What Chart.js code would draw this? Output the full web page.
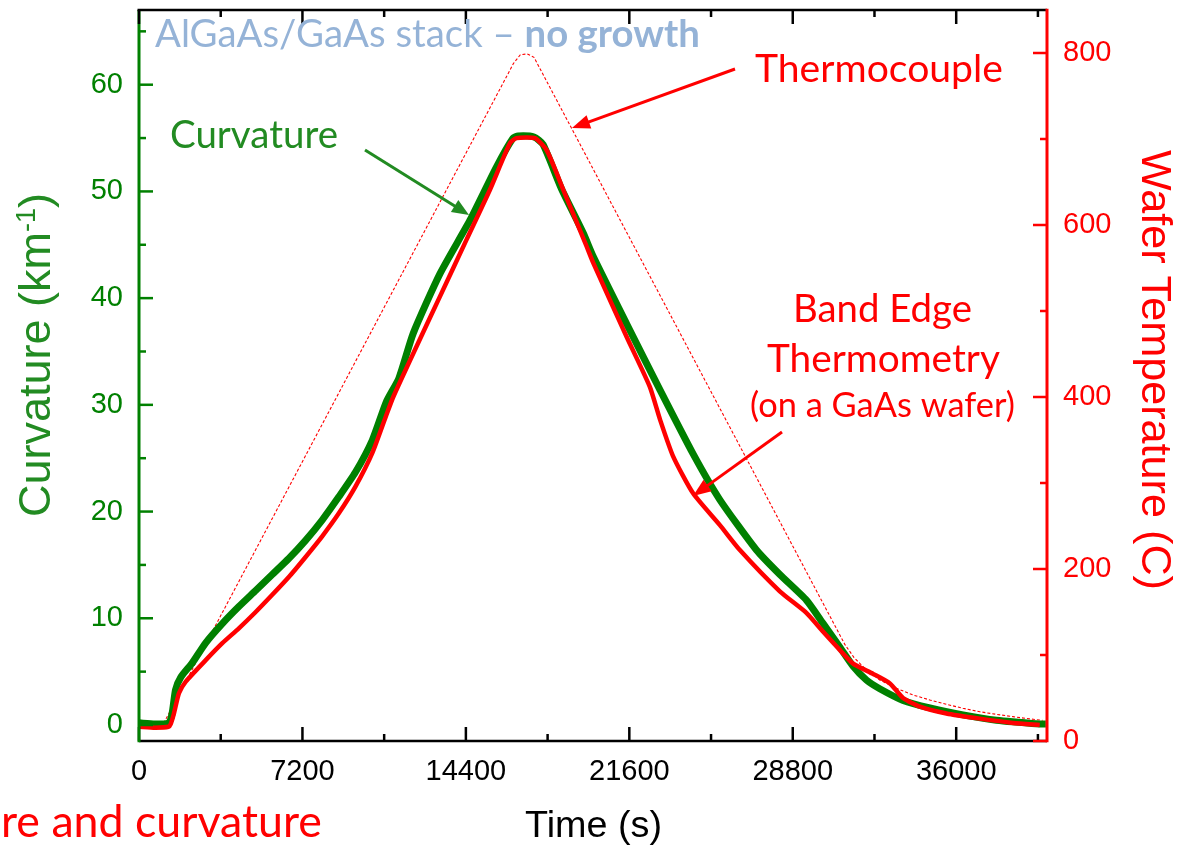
<!DOCTYPE html>
<html><head><meta charset="utf-8">
<script src="https://cdn.jsdelivr.net/npm/chart.js@4.4.1/dist/chart.umd.min.js"></script>
<style>html,body{margin:0;padding:0;background:#fff;overflow:hidden}canvas{display:block}</style>
</head><body>
<canvas id="c" width="1196" height="846"></canvas>
<script>
// ---- data ----
const curvTime = [0, 700, 1300, 1460, 1610, 1850, 2340, 2940, 3670, 4400, 5140, 5870, 6600, 7340, 8070, 8810, 9540, 10280, 10900, 11450, 12080, 13260, 14580, 15750, 16480, 16700, 17400, 17800, 18600, 19570, 20010, 21480, 22950, 24410, 25590, 27200, 28230, 29400, 30140, 30870, 31460, 32050, 32630, 33660, 34840, 36300, 37770, 39680, 39950];
const curvValues = [0.2, 0.1, 0.2, 1.1, 3.3, 4.5, 5.8, 7.7, 9.5, 11.1, 12.6, 14.1, 15.6, 17.3, 19.2, 21.4, 23.7, 26.7, 30.3, 32.5, 36.7, 42.3, 47.3, 52.3, 55.0, 55.2, 55.1, 54.4, 50.3, 46.1, 43.9, 37.6, 31.4, 25.4, 21.1, 16.4, 14.1, 11.7, 9.5, 7.3, 5.5, 4.2, 3.4, 2.3, 1.6, 0.95, 0.45, 0.1, 0.1];

const bandTime = [0, 700, 1300, 1400, 1540, 1760, 2060, 2940, 3670, 4400, 5140, 5870, 6610, 7340, 8070, 8810, 9540, 10280, 10870, 11200, 12230, 13260, 14430, 15460, 16340, 16630, 17440, 17960, 18690, 19720, 20010, 21480, 22500, 22950, 23530, 24410, 25590, 26470, 28230, 29400, 30140, 30870, 31460, 32340, 33080, 33660, 34400, 35570, 37040, 38500, 39680];
const bandTemp = [16.6, 15.5, 16.5, 20, 32, 55.5, 69, 94, 113.7, 131, 150, 170, 191, 214, 238, 265, 296, 335, 377, 400, 459, 517, 583, 641, 695, 701, 701, 687, 641, 575, 556, 470, 412, 374, 331, 288, 251, 222, 174, 149, 127, 106, 90, 78, 67, 50, 40, 32, 26, 21, 18.6];

const tcTime = [0, 1075, 16500, 16800, 17100, 17400, 31100, 31500, 31900, 32630, 33370, 34100, 34840, 35570, 36300, 37040, 37770, 38500, 39390, 39800];
const tcTemp = [20, 20, 788, 798, 799, 795, 112, 97, 86.4, 71, 61.3, 53.5, 47.7, 42.7, 38, 34, 31, 28.3, 25.2, 24];

const timeTicks = [0, 7200, 14400, 21600, 28800, 36000];
const timeMinor = [3600, 10800, 18000, 25200, 32400, 39600];
const curvTicks = [0, 10, 20, 30, 40, 50, 60];
const curvMinor = [5, 15, 25, 35, 45, 55, 65];
const tempTicks = [0, 200, 400, 600, 800];
const tempMinor = [100, 300, 500, 700];

// ---- styles ----
const GREEN = '#008000', FOREST = '#228b22', RED = '#ff0000';
const ARIAL = "'Liberation Sans', Arial, sans-serif";
const CAL = "Lato, 'Open Sans', sans-serif";

const pts = (xs, ys) => xs.map((x, i) => ({x, y: ys[i]}));

function fitSize(ctx, text, weight, family, width) {
  ctx.font = `${weight} 100px ${family}`;
  return 100 * width / ctx.measureText(text).width;
}
function arrow(ctx, x1, y1, x2, y2, color, lw, hl, hw) {
  const a = Math.atan2(y2 - y1, x2 - x1), c = Math.cos(a), s = Math.sin(a);
  ctx.strokeStyle = color; ctx.fillStyle = color; ctx.lineWidth = lw;
  ctx.beginPath(); ctx.moveTo(x1, y1); ctx.lineTo(x2 - c * hl * 0.8, y2 - s * hl * 0.8); ctx.stroke();
  const bx = x2 - c * hl, by = y2 - s * hl;
  ctx.beginPath(); ctx.moveTo(x2, y2);
  ctx.lineTo(bx - s * hw / 2, by + c * hw / 2);
  ctx.lineTo(bx + s * hw / 2, by - c * hw / 2);
  ctx.closePath(); ctx.fill();
}
function noPad(s) { s.paddingTop = 0; s.paddingBottom = 0; s.paddingLeft = 0; s.paddingRight = 0; }

const axesPlugin = {
  id: 'axesTicks',
  afterDatasetsDraw(chart) {
    const {ctx, chartArea: {left, right, top, bottom}, scales} = chart;
    const X = scales.x, L = scales.yL, R = scales.yR;
    const line = (a, b, c, d) => { ctx.beginPath(); ctx.moveTo(a, b); ctx.lineTo(c, d); ctx.stroke(); };
    ctx.save(); ctx.lineCap = 'butt';
    // bottom axis
    ctx.strokeStyle = '#000'; ctx.lineWidth = 2.7;
    line(left, bottom, right, bottom);
    ctx.lineWidth = 2.5;
    timeTicks.forEach(v => { const p = X.getPixelForValue(v); line(p, bottom, p, bottom - 14); });
    timeMinor.forEach(v => { const p = X.getPixelForValue(v); line(p, bottom, p, bottom - 7); });
    // left axis
    ctx.strokeStyle = GREEN; ctx.lineWidth = 3;
    line(left, top, left, bottom + 1.3);
    ctx.lineWidth = 2.5;
    curvTicks.forEach(v => { const p = L.getPixelForValue(v); line(left, p, left + 14, p); });
    curvMinor.forEach(v => { const p = L.getPixelForValue(v); line(left, p, left + 7, p); });
    // top axis
    ctx.strokeStyle = '#000'; ctx.lineWidth = 2.7;
    line(left - 1.5, top, right, top);
    ctx.lineWidth = 2.5;
    timeTicks.forEach(v => { const p = X.getPixelForValue(v); line(p, top, p, top + 14); });
    timeMinor.forEach(v => { const p = X.getPixelForValue(v); line(p, top, p, top + 7); });
    // right axis
    ctx.strokeStyle = RED; ctx.lineWidth = 3;
    line(right, top - 1.3, right, bottom + 1.3);
    ctx.lineWidth = 2.5;
    tempTicks.forEach(v => { const p = R.getPixelForValue(v); line(right, p, right - 14, p); });
    tempMinor.forEach(v => { const p = R.getPixelForValue(v); line(right, p, right - 7, p); });
    ctx.restore();
  },
  afterDraw(chart) {
    const ctx = chart.ctx;
    ctx.save();
    ctx.textBaseline = 'alphabetic';
    // left axis title
    ctx.save();
    ctx.translate(50, 517); ctx.rotate(-Math.PI / 2);
    ctx.fillStyle = FOREST; ctx.textAlign = 'left';
    ctx.font = `45px ${ARIAL}`;
    ctx.fillText('Curvature (km', 0, 0);
    let w = ctx.measureText('Curvature (km').width;
    ctx.font = `27px ${ARIAL}`;
    ctx.fillText('-1', w, -15);
    w += ctx.measureText('-1').width;
    ctx.font = `45px ${ARIAL}`;
    ctx.fillText(')', w, 0);
    ctx.restore();
    // right axis title
    ctx.save();
    ctx.translate(1142, 150); ctx.rotate(Math.PI / 2);
    ctx.fillStyle = RED; ctx.textAlign = 'left';
    let s = fitSize(ctx, 'Wafer Temperature (C)', 'normal', ARIAL, 440);
    ctx.font = `${s}px ${ARIAL}`;
    ctx.fillText('Wafer Temperature (C)', 0, 0);
    ctx.restore();
    // x title
    s = fitSize(ctx, 'Time (s)', 'normal', ARIAL, 137);
    ctx.font = `${s}px ${ARIAL}`; ctx.fillStyle = '#000'; ctx.textAlign = 'left';
    ctx.fillText('Time (s)', 525, 837);

    // annotations
    const txt = (t, x, y, width, color, weight) => {
      const sz = fitSize(ctx, t, weight || 'normal', CAL, width);
      ctx.font = `${weight || 'normal'} ${sz}px ${CAL}`;
      ctx.fillStyle = color; ctx.textAlign = 'left';
      ctx.fillText(t, x, y);
    };
    const a1 = 'AlGaAs/GaAs stack \u2013 ', a2 = 'no growth';
    ctx.font = `normal 100px ${CAL}`; const m1 = ctx.measureText(a1).width;
    ctx.font = `bold 100px ${CAL}`; const m2 = ctx.measureText(a2).width;
    const hs = 100 * 545 / (m1 + m2);
    ctx.fillStyle = '#95b3d7';
    ctx.font = `normal ${hs}px ${CAL}`; ctx.fillText(a1, 155, 47);
    ctx.font = `bold ${hs}px ${CAL}`; ctx.fillText(a2, 155 + m1 * hs / 100, 47);

    txt('Curvature', 170, 148, 168, FOREST);
    txt('Thermocouple', 755, 82, 248, RED);
    txt('Band Edge', 793, 322, 179, RED);
    txt('Thermometry', 767, 372, 233, RED);
    txt('(on a GaAs wafer)', 750, 417, 265, RED);
    txt('re and curvature', 1, 837, 321, RED);

    arrow(ctx, 365, 150, 469, 215, FOREST, 3, 17, 14);
    arrow(ctx, 735, 69, 572, 128, RED, 3, 18, 14);
    arrow(ctx, 782, 432, 693, 496, RED, 3, 18, 14);
    ctx.restore();
  }
};

const tickFont = {family: ARIAL, size: 29};

new Chart(document.getElementById('c'), {
  type: 'line',
  data: {
    datasets: [
      {label: 'Band Edge Thermometry', data: pts(bandTime, bandTemp), yAxisID: 'yR',
       borderColor: RED, borderWidth: 4.5, pointRadius: 0, tension: 0.2, order: 0},
      {label: 'Curvature', data: pts(curvTime, curvValues), yAxisID: 'yL',
       borderColor: GREEN, borderWidth: 7, pointRadius: 0, tension: 0.2, order: 1},
      {label: 'Thermocouple', data: pts(tcTime, tcTemp), yAxisID: 'yR',
       borderColor: RED, borderWidth: 1.1, borderDash: [3, 2], pointRadius: 0, tension: 0, order: 2}
    ]
  },
  options: {
    responsive: false, animation: false, devicePixelRatio: 1,
    layout: {padding: {top: 10, left: 0, right: 0, bottom: 0}},
    plugins: {legend: {display: false}, tooltip: {enabled: false}},
    scales: {
      x: {
        type: 'linear', position: 'bottom', min: 0, max: 40000,
        afterFit: s => { s.height = 105; noPad(s); },
        afterBuildTicks: s => { s.ticks = timeTicks.map(v => ({value: v})); },
        grid: {display: false, drawTicks: false}, border: {display: false},
        ticks: {padding: 14, color: '#000', font: tickFont, maxRotation: 0, autoSkip: false, callback: v => String(v)}
      },
      yL: {
        type: 'linear', position: 'left', min: -1.5, max: 67,
        afterFit: s => { s.width = 139; noPad(s); },
        afterBuildTicks: s => { s.ticks = curvTicks.map(v => ({value: v})); },
        grid: {display: false, drawTicks: false}, border: {display: false},
        ticks: {padding: 16, color: GREEN, font: tickFont, callback: v => String(v)}
      },
      yR: {
        type: 'linear', position: 'right', min: 0, max: 850,
        afterFit: s => { s.width = 149; noPad(s); },
        afterBuildTicks: s => { s.ticks = tempTicks.map(v => ({value: v})); },
        grid: {display: false, drawTicks: false}, border: {display: false},
        ticks: {padding: 16, color: RED, font: tickFont, callback: v => String(v)}
      }
    }
  },
  plugins: [axesPlugin]
});
</script>
</body></html>
